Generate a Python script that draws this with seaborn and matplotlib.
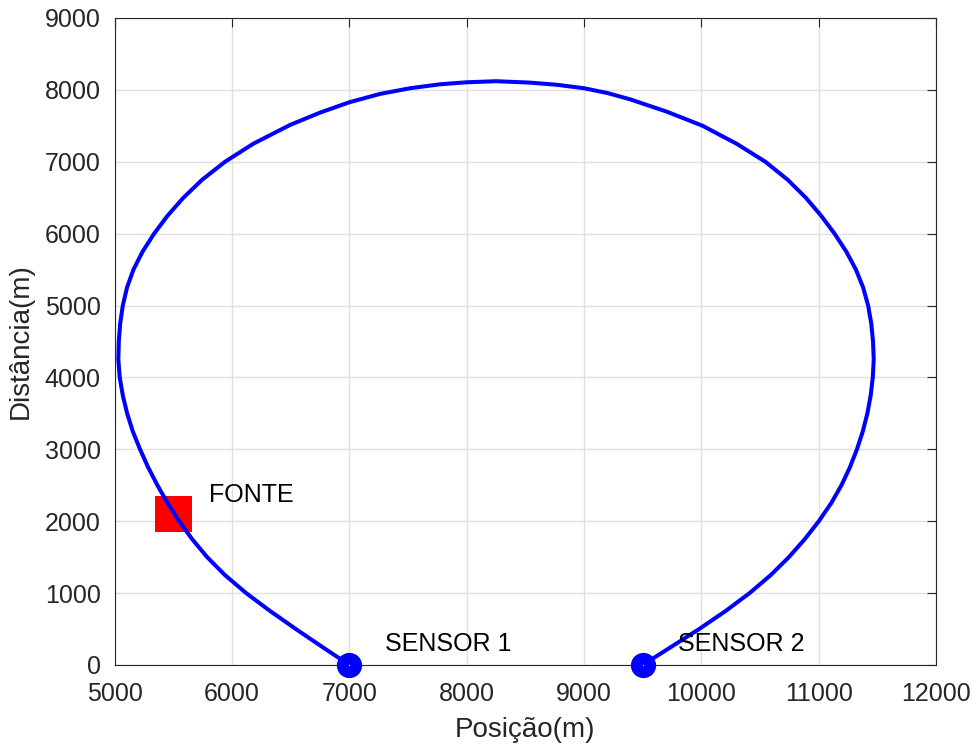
import numpy as np
import pandas as pd
import matplotlib
matplotlib.use("Agg")
import matplotlib.pyplot as plt
import seaborn as sns

# Curve (from SENSOR 1, round the loop, to SENSOR 2)
curve_x = [7000, 6770, 6544, 6325, 6120, 5940, 5788, 5660, 5550, 5452, 5364, 5285,
           5216, 5154, 5106, 5069, 5043, 5031, 5035, 5047, 5069, 5105, 5160, 5238,
           5336, 5451, 5586, 5746, 5941, 6181, 6494, 6750, 7000, 7261, 7517, 7773,
           8000, 8250, 8540, 8770, 9000, 9200, 9392, 9704, 10010, 10300, 10545,
           10735, 10890, 11020, 11135, 11235, 11317, 11379, 11421, 11448, 11463,
           11469, 11461, 11443, 11415, 11376, 11326, 11266, 11194, 11106, 11001,
           10881, 10746, 10591, 10411, 10206, 9981, 9741, 9500]
curve_y = [0, 250, 500, 750, 1000, 1250, 1500, 1750, 2000, 2250, 2500, 2750,
           3000, 3250, 3500, 3750, 4000, 4250, 4500, 4750, 5000, 5250, 5500, 5750,
           6000, 6250, 6500, 6750, 7000, 7250, 7511, 7683, 7827, 7943, 8022, 8077,
           8105, 8120, 8100, 8070, 8022, 7955, 7868, 7697, 7500, 7250, 7000,
           6750, 6500, 6250, 6000, 5750, 5500, 5250, 5000, 4750, 4500,
           4250, 4000, 3750, 3500, 3250, 3000, 2750, 2500, 2250, 2000,
           1750, 1500, 1250, 1000, 750, 500, 250, 0]

sensor_x = [7000, 9500]
sensor_y = [0, 0]
sensor_labels = ["SENSOR 1", "SENSOR 2"]
sensor_label_x = [7300, 9800]
sensor_label_y = [290, 290]

source_x = [5500]
source_y = [2100]
source_label = "FONTE"
source_label_x = 5800
source_label_y = 2370

x_ticks = [5000, 6000, 7000, 8000, 9000, 10000, 11000, 12000]
y_ticks = [0, 1000, 2000, 3000, 4000, 5000, 6000, 7000, 8000, 9000]

sns.set_style("white")
plt.rcParams['font.family'] = ['Liberation Sans', 'DejaVu Sans']

fig = plt.figure(figsize=(9.72, 7.47), dpi=100)
ax = fig.add_axes([0.118, 0.1098, 0.845, 0.8662])

dark = (0.15, 0.15, 0.15)

ax.set_xlim(5000, 12000)
ax.set_ylim(0, 9000)
ax.set_xticks(x_ticks)
ax.set_yticks(y_ticks)
ax.grid(True, color=(0.88, 0.88, 0.88), linewidth=1.0, zorder=0)
ax.set_axisbelow(True)

# source square (under the curve)
sns.scatterplot(x=source_x, y=source_y, marker='s', s=26.5**2, color='red',
                edgecolor='none', linewidth=0, ax=ax, zorder=2, legend=False)

df = pd.DataFrame({"x": curve_x, "y": curve_y})
sns.lineplot(data=df, x="x", y="y", sort=False, estimator=None, color='blue',
             linewidth=2.9, ax=ax, zorder=3)
ax.lines[-1].set_solid_joinstyle('round')
ax.lines[-1].set_solid_capstyle('round')

# sensors: thick-edged circles with a tiny hole
sns.scatterplot(x=sensor_x, y=sensor_y, marker='o', s=9.8**2, color='white',
                edgecolor='blue', linewidth=8.4, ax=ax, zorder=4, legend=False)
for c in ax.collections:
    c.set_clip_on(False)

for lx, ly, t in zip(sensor_label_x, sensor_label_y, sensor_labels):
    ax.text(lx, ly, t, fontsize=18, color='black', va='center', ha='left', zorder=5)
ax.text(source_label_x, source_label_y, source_label, fontsize=18, color='black',
        va='center', ha='left', zorder=5)

ax.set_xlabel("Posição(m)", fontsize=20, color=dark, labelpad=8)
ax.set_ylabel("Distância(m)", fontsize=20, color=dark, labelpad=8)

ax.tick_params(axis='both', which='both', direction='in', length=6.3, width=0.8,
               colors=dark, labelsize=18, top=True, right=True)
ax.tick_params(axis='x', pad=12)
ax.tick_params(axis='y', pad=10)
for s in ax.spines.values():
    s.set_visible(True)
    s.set_color(dark)
    s.set_linewidth(0.8)

fig.savefig("out.png", dpi=100)
